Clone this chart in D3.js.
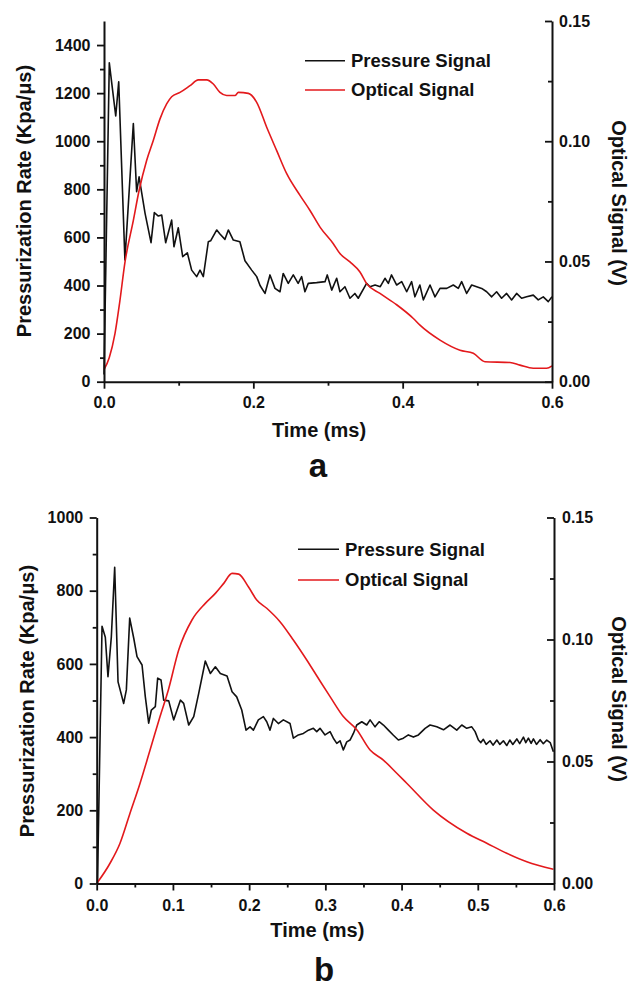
<!DOCTYPE html>
<html><head><meta charset="utf-8">
<script src="https://cdn.jsdelivr.net/npm/d3@7"></script>
<style>
html,body{margin:0;padding:0;background:#fff;}
svg text{font-family:"Liberation Sans",Arial,Helvetica,sans-serif;font-weight:bold;fill:#111;}
</style></head>
<body>
<svg id="chart" width="630" height="990"></svg>
<script>
// ---------- DATA ----------
// Panel a – pressure signal (time ms, Kpa/µs)
const aPressTime = [0,0.0071,0.0157,0.0197,0.028,0.0393,0.0437,0.047,0.055,0.063,0.0674,0.0728,0.0773,0.0826,0.0906,0.0937,0.0995,0.1054,0.1116,0.1174,0.1241,0.1286,0.133,0.1397,0.1428,0.151,0.1553,0.162,0.1665,0.1732,0.182,0.1888,0.1978,0.2045,0.209,0.2156,0.2223,0.229,0.2357,0.240,0.2468,0.2535,0.260,0.2647,0.2691,0.2736,0.2848,0.296,0.299,0.305,0.3116,0.316,0.3227,0.3294,0.336,0.3405,0.3517,0.3562,0.363,0.370,0.3763,0.3808,0.385,0.392,0.3987,0.4054,0.412,0.4164,0.423,0.4277,0.4366,0.4433,0.450,0.459,0.4678,0.4745,0.479,0.4857,0.4924,0.4991,0.5058,0.5125,0.5192,0.5258,0.5325,0.5392,0.5459,0.5526,0.5593,0.566,0.5749,0.5816,0.5883,0.595,0.600];
const aPressure  = [30,1326,1105,1247,506,1074,790,852,700,578,703,689,693,578,672,561,640,520,536,464,437,464,437,582,586,631,614,592,631,589,582,503,464,437,400,367,444,388,374,450,409,444,409,437,374,409,412,416,444,381,430,374,395,347,367,347,409,395,402,395,430,409,444,402,416,374,416,353,402,340,402,353,388,388,402,388,416,367,402,395,388,374,353,374,347,367,340,367,347,353,360,340,353,333,353];
// Panel a – optical signal (time ms, V)
const aOptTime = [0,0.007,0.0147,0.021,0.028,0.0393,0.047,0.0571,0.066,0.075,0.0839,0.0906,0.1018,0.1152,0.1263,0.1375,0.1464,0.1553,0.1643,0.1754,0.180,0.1933,0.2045,0.2179,0.2313,0.2447,0.2625,0.2759,0.2893,0.3071,0.316,0.3294,0.3428,0.3517,0.3696,0.3919,0.4143,0.4232,0.45,0.4768,0.4946,0.5103,0.5437,0.5571,0.5749,0.5928,0.600];
const aOptical = [0.005,0.010,0.020,0.033,0.0495,0.0671,0.0795,0.092,0.1003,0.1093,0.1155,0.1185,0.1203,0.1231,0.1255,0.1255,0.1238,0.1203,0.119,0.119,0.1203,0.1199,0.1162,0.1058,0.0961,0.0865,0.0775,0.0712,0.0643,0.0574,0.0533,0.0498,0.0456,0.0408,0.0367,0.0320,0.0263,0.0235,0.0173,0.0131,0.0118,0.0083,0.008,0.0069,0.0056,0.0056,0.0066];

// Panel b – pressure signal
const bPressTime = [0.001,0.007,0.0113,0.0148,0.0192,0.0236,0.028,0.0354,0.0389,0.0433,0.0486,0.0529,0.0595,0.0638,0.0682,0.0717,0.0769,0.080,0.0844,0.0879,0.0945,0.101,0.1098,0.1141,0.1207,0.1273,0.1339,0.1425,0.1491,0.1557,0.1622,0.171,0.1776,0.1837,0.1903,0.1959,0.2012,0.2056,0.2121,0.2187,0.2231,0.2274,0.2318,0.2383,0.2449,0.2537,0.258,0.2646,0.2712,0.2778,0.2843,0.2887,0.293,0.2996,0.3062,0.3105,0.315,0.3193,0.3236,0.3281,0.3324,0.3368,0.3412,0.3478,0.3543,0.3587,0.3652,0.3706,0.3762,0.3827,0.3893,0.3958,0.4024,0.4089,0.4155,0.4221,0.4309,0.4374,0.4462,0.455,0.4637,0.4724,0.479,0.4855,0.4921,0.4965,0.5008,0.504,0.5073,0.511,0.5161,0.520,0.525,0.529,0.5336,0.538,0.542,0.546,0.5512,0.555,0.5599,0.563,0.5664,0.570,0.573,0.577,0.5818,0.586,0.5905,0.595,0.5992];
const bPressure  = [0,703,673,565,674,864,551,492,529,725,670,620,597,510,438,474,483,561,556,501,499,447,501,492,433,456,520,608,574,592,574,567,524,510,474,419,428,419,447,456,442,419,451,437,447,437,397,406,410,419,424,415,424,406,415,397,383,390,365,387,392,410,433,442,433,447,428,442,433,419,405,392,397,406,400,406,424,433,428,420,433,419,433,424,428,415,392,385,394,380,390,378,392,380,390,377,392,380,395,382,400,385,397,383,395,380,393,382,392,385,360];
// Panel b – optical signal
const bOptTime = [0,0.0175,0.0306,0.0437,0.0568,0.07,0.0831,0.094,0.1076,0.125,0.1425,0.1557,0.1667,0.1776,0.1863,0.199,0.21,0.2231,0.2405,0.258,0.2756,0.293,0.3062,0.3236,0.3412,0.3587,0.3761,0.3937,0.4068,0.4417,0.4856,0.5118,0.538,0.5643,0.5992];
const bOptical = [0,0.0083,0.0165,0.0288,0.041,0.0547,0.0684,0.0793,0.0957,0.108,0.1148,0.1189,0.123,0.1271,0.1268,0.1216,0.1162,0.1128,0.1073,0.0998,0.0916,0.083,0.0766,0.0684,0.063,0.0547,0.0506,0.0452,0.0411,0.0301,0.0206,0.0165,0.0124,0.0089,0.0058];

// Ticks
const aXTicks = [0, 0.2, 0.4, 0.6];
const aXMinor = [0.1, 0.3, 0.5];
const aYTicks = [0, 200, 400, 600, 800, 1000, 1200, 1400];
const aYMinor = [100, 300, 500, 700, 900, 1100, 1300];
const bXTicks = [0, 0.1, 0.2, 0.3, 0.4, 0.5, 0.6];
const bXMinor = [0.05, 0.15, 0.25, 0.35, 0.45, 0.55];
const bYTicks = [0, 200, 400, 600, 800, 1000];
const bYMinor = [100, 300, 500, 700, 900];
const rTicks = [0, 0.05, 0.10, 0.15];
const rMinor = [0.025, 0.075, 0.125];

const seriesNames = ["Pressure Signal", "Optical Signal"];
const seriesColors = ["#111111", "#e3191c"];
const panelLabels = ["a", "b"];
const xTitle = "Time (ms)";
const yTitle = "Pressurization Rate (Kpa/\u03BCs)";
const y2Title = "Optical Signal (V)";

// ---------- DRAW ----------
const svg = d3.select("#chart");

function panel(cfg) {
  const g = svg.append("g");
  const x = d3.scaleLinear().domain([0, 0.6]).range([cfg.left, cfg.right]);
  const y = d3.scaleLinear().domain([0, cfg.yMax]).range([cfg.bottom, cfg.top]);
  const y2 = d3.scaleLinear().domain([0, 0.15]).range([cfg.bottom, cfg.top]);

  const pData = cfg.pt.map((t, i) => [t, cfg.pv[i]]);
  const oData = cfg.ot.map((t, i) => [t, cfg.ov[i]]);
  g.append("path").attr("d", d3.line().x(d => x(d[0])).y(d => y(d[1]))(pData))
    .attr("fill", "none").attr("stroke", seriesColors[0]).attr("stroke-width", 1.6).attr("stroke-linejoin", "round");
  g.append("path").attr("d", d3.line().curve(d3.curveMonotoneX).x(d => x(d[0])).y(d => y2(d[1]))(oData))
    .attr("fill", "none").attr("stroke", seriesColors[1]).attr("stroke-width", 1.6);

  function style(sel) {
    sel.select(".domain").attr("stroke", "#111").attr("stroke-width", 2);
    sel.selectAll(".tick line").attr("stroke", "#111").attr("stroke-width", 1.8);
    sel.selectAll("text").style("font-size", "16px").attr("fill", "#111");
  }
  const xa = g.append("g").attr("transform", `translate(0,${cfg.bottom})`)
    .call(d3.axisBottom(x).tickValues(cfg.xTicks).tickSize(7).tickSizeOuter(0).tickPadding(cfg.xPad).tickFormat(d3.format(".1f")));
  style(xa);
  const xm = g.append("g").attr("transform", `translate(0,${cfg.bottom})`)
    .call(d3.axisBottom(x).tickValues(cfg.xMinor).tickSize(4).tickSizeOuter(0).tickFormat(""));
  style(xm); xm.select(".domain").remove();
  const ya = g.append("g").attr("transform", `translate(${cfg.left},0)`)
    .call(d3.axisLeft(y).tickValues(cfg.yTicks).tickSize(7).tickSizeOuter(0).tickPadding(6.5).tickFormat(d3.format("d")));
  style(ya);
  const ym = g.append("g").attr("transform", `translate(${cfg.left},0)`)
    .call(d3.axisLeft(y).tickValues(cfg.yMinor).tickSize(4).tickSizeOuter(0).tickFormat(""));
  style(ym); ym.select(".domain").remove();
  const ra = g.append("g").attr("transform", `translate(${cfg.right},0)`)
    .call(d3.axisRight(y2).tickValues(rTicks).tickSize(-7).tickSizeOuter(0).tickPadding(cfg.rPad).tickFormat(d3.format(".2f")));
  style(ra);
  const rm = g.append("g").attr("transform", `translate(${cfg.right},0)`)
    .call(d3.axisRight(y2).tickValues(rMinor).tickSize(-4).tickSizeOuter(0).tickFormat(""));
  style(rm); rm.select(".domain").remove();

  g.append("text").attr("x", (cfg.left + cfg.right) / 2 + cfg.xtDx).attr("y", cfg.bottom + cfg.xtDy)
    .attr("text-anchor", "middle").style("font-size", "20px").text(xTitle);
  g.append("text").attr("transform", `translate(${cfg.ytX},${cfg.ytY}) rotate(-90)`)
    .attr("text-anchor", "middle").style("font-size", "20px").text(yTitle);
  g.append("text").attr("transform", `translate(${cfg.y2X},${cfg.y2Y}) rotate(90)`)
    .attr("text-anchor", "middle").style("font-size", "20px").text(y2Title);

  seriesNames.forEach((n, i) => {
    const ly = cfg.legY[i];
    g.append("line").attr("x1", cfg.legX1).attr("x2", cfg.legX2).attr("y1", ly).attr("y2", ly)
      .attr("stroke", seriesColors[i]).attr("stroke-width", 1.5);
    g.append("text").attr("x", cfg.legX2 + 6).attr("y", ly + 6.3).style("font-size", "18.5px").text(n);
  });

  g.append("text").attr("x", cfg.labX).attr("y", cfg.labY).attr("text-anchor", "middle")
    .style("font-size", "33px").text(cfg.label);
}

panel({left: 104, right: 552, top: 21, bottom: 381.7, yMax: 1500,
  pt: aPressTime, pv: aPressure, ot: aOptTime, ov: aOptical,
  xTicks: aXTicks, xMinor: aXMinor, yTicks: aYTicks, yMinor: aYMinor,
  xPad: 8, rPad: 7, xtDx: -9, xtDy: 55, ytX: 30.5, ytY: 201, y2X: 612, y2Y: 203,
  legX1: 305, legX2: 345, legY: [60.7, 90], labX: 318, labY: 477, label: panelLabels[0]});

panel({left: 96.7, right: 554, top: 517.5, bottom: 883.5, yMax: 1000,
  pt: bPressTime, pv: bPressure, ot: bOptTime, ov: bOptical,
  xTicks: bXTicks, xMinor: bXMinor, yTicks: bYTicks, yMinor: bYMinor,
  xPad: 9.5, rPad: 8, xtDx: -8, xtDy: 53.5, ytX: 34, ytY: 701, y2X: 612, y2Y: 699,
  legX1: 298, legX2: 339, legY: [549.3, 580], labX: 324, labY: 981, label: panelLabels[1]});
</script>
</body></html>
